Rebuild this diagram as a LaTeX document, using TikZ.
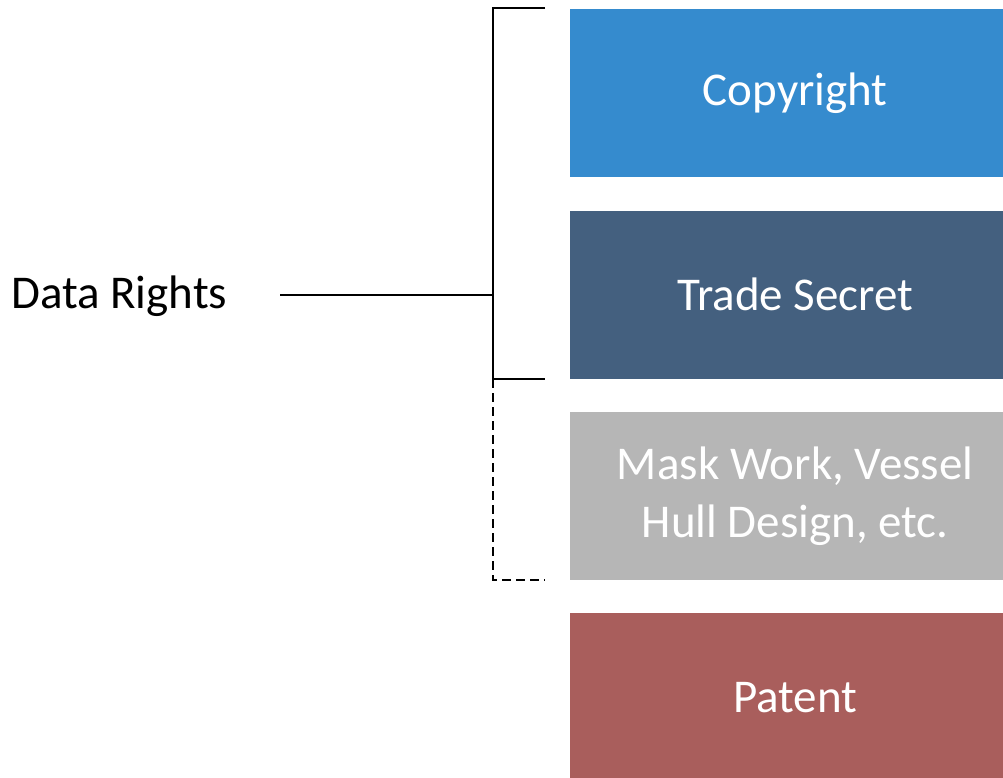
\documentclass[tikz,border=0pt]{standalone}
\usepackage{fontspec}
\setmainfont{Carlito}
\usetikzlibrary{positioning}
\definecolor{rightsBlue}{RGB}{53, 139, 206}
\definecolor{rightsSlate}{RGB}{68, 96, 127}
\definecolor{rightsGray}{RGB}{182, 182, 182}
\definecolor{rightsRed}{RGB}{169, 94, 92}

\begin{document}
\begin{tikzpicture}[x=1pt, y=-1pt,
      kind/.style={minimum width=450pt, minimum height=168pt, inner sep=0pt, align=center,
        text=white, font=\fontsize{47}{58}\selectfont},
      brace/.style={line width=1.5pt, black},
      braceopt/.style={brace, dash pattern=on 9pt off 5pt}
    ]
      \useasboundingbox (0,0) rectangle (1003,777);
      \node[kind,fill=rightsBlue,anchor=north west] (copy) at (570,9) {Copyright};
      \node[kind,fill=rightsSlate,below=33pt of copy] (trade) {Trade Secret};
      \node[kind,fill=rightsGray,below=33pt of trade] (mask) {Mask Work, Vessel\\Hull Design, etc.};
      \node[kind,fill=rightsRed,below=33pt of mask] (patent) {Patent};
      \node[anchor=west, inner sep=0pt, font=\fontsize{47}{56}\selectfont] (rights) at (11,296) {Data Rights};
      % bracket
      \coordinate (top) at (493,8);
      \coordinate (topend) at (545,8);
      \coordinate (mid) at (493,379);
      \coordinate (midend) at (545,379);
      \coordinate (low) at (493,580);
      \coordinate (lowend) at (545,580);
      \coordinate (join) at (493,295);
      \coordinate (start) at (280,295);
      \draw[brace] (topend) -- (top) -- (mid) -- (midend);
      \draw[braceopt] (mid) -- (low) -- (lowend);
      \draw[brace] (start) -- (join);
    \end{tikzpicture}
\end{document}
